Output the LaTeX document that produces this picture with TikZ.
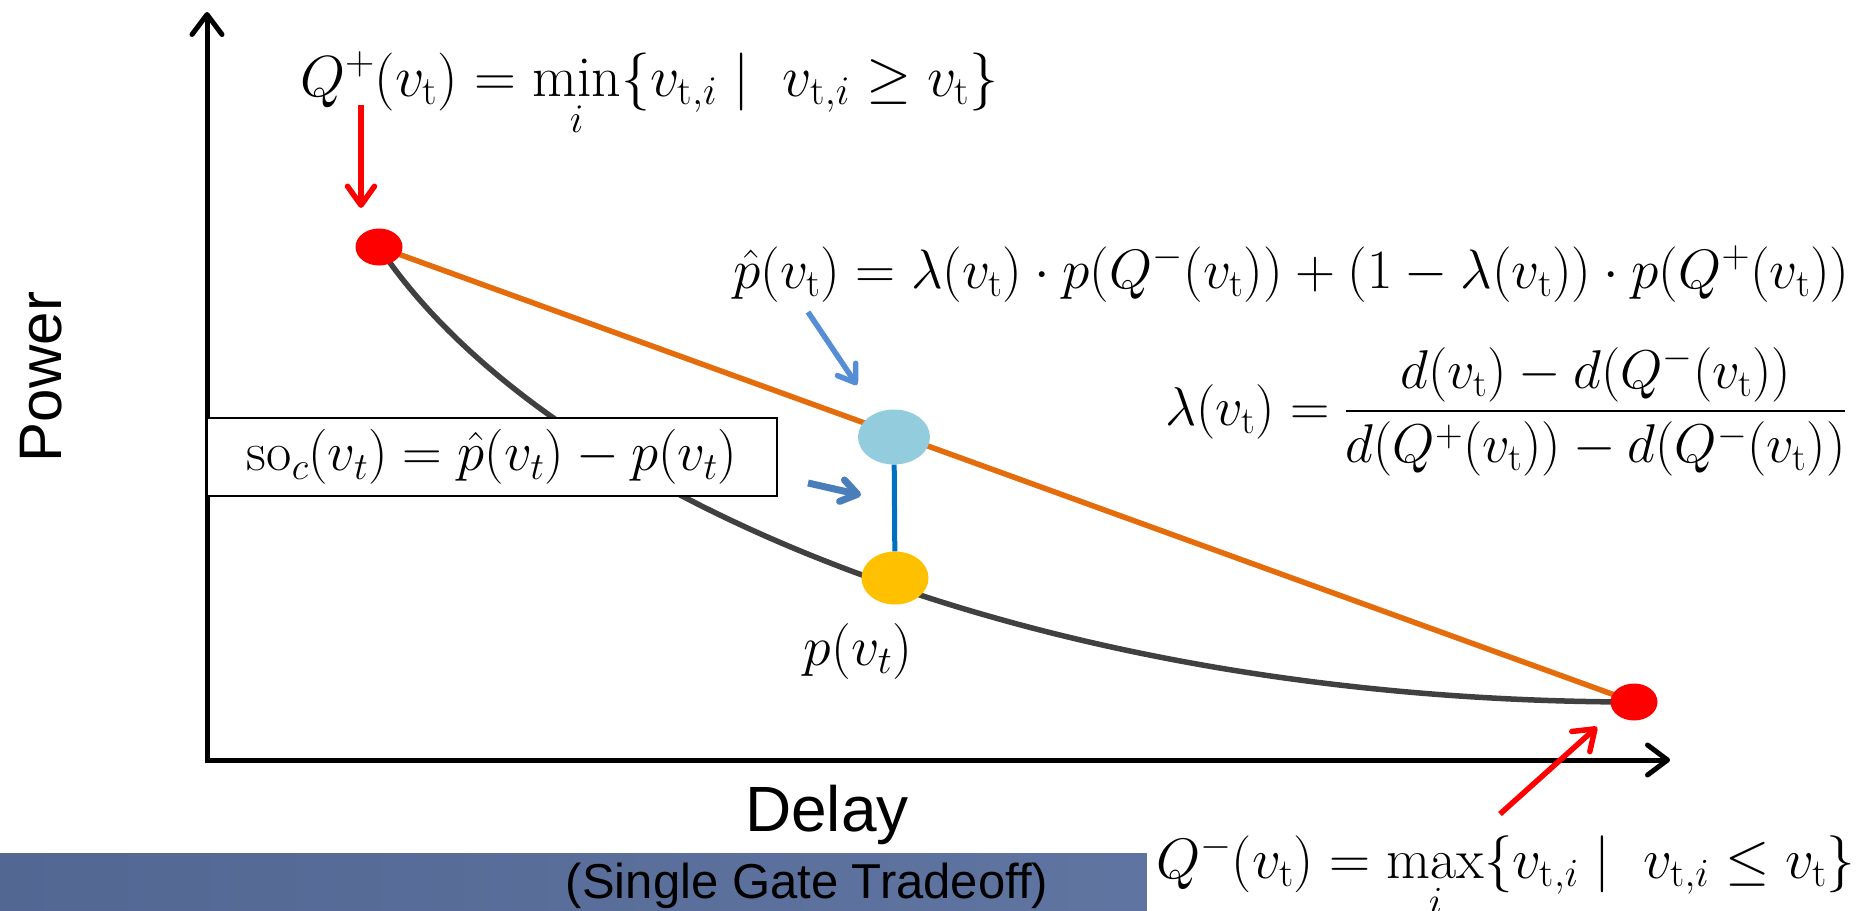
\RequirePackage{fix-cm}
\documentclass[tikz,border=0pt]{standalone}
\usepackage{fontspec}
\setsansfont{Liberation Sans}
\usepackage{amsmath,amssymb}
\usepackage{tikz}
\usetikzlibrary{arrows.meta,positioning,backgrounds,shapes.geometric}

\definecolor{ptred}{RGB}{255,0,0}
\definecolor{chordorange}{RGB}{228,108,10}
\definecolor{curvegray}{RGB}{64,64,64}
\definecolor{hatblue}{RGB}{147,205,221}
\definecolor{pyellow}{RGB}{255,192,0}
\definecolor{gapblue}{RGB}{0,112,192}
\definecolor{arrblue}{RGB}{85,142,213}
\definecolor{arrdark}{RGB}{74,126,187}
\definecolor{barleft}{RGB}{82,104,147}
\definecolor{barright}{RGB}{104,124,168}

\newcommand{\vt}{v_{\mathrm{t}}}
\newcommand{\vti}{v_{\mathrm{t},i}}

\begin{document}
\begin{tikzpicture}[x=1pt,y=-1pt,
 dot/.style={ellipse,inner sep=0pt,minimum width=47pt,minimum height=37pt},
 axis/.style={line width=5pt,{Straight Barb[round,length=20pt,width=30pt]}-{Straight Barb[round,length=20pt,width=30pt]}},
 redarrow/.style={ptred,line width=5.5pt,-{Straight Barb[round,length=19pt,width=27pt]}},
 bluearrow/.style={line width=5.5pt,-{Straight Barb[round,length=16pt,width=22pt]}},
 bigmath/.style={font=\fontsize{#1}{60}\selectfont,inner sep=0pt},
 sans/.style={font=\sffamily\fontsize{#1}{#1}\selectfont}]
\useasboundingbox (0,0) rectangle (1860,910);
% slide footer
\shade[left color=barleft,right color=barright] (0,853) rectangle (1860,910);
\node[sans=49] (caption) at (807,886) {(Single Gate Tradeoff)};
% axes
\coordinate (origin) at (207,760);
\coordinate (ytop) at (207,12);
\coordinate (xend) at (1670,760);
\draw[axis] (ytop) -- (origin) -- (xend);
\node[sans=60,rotate=90] (power) at (41,377) {Power};
\node[sans=64] (delay) at (827,815) {Delay};
% the two neighbours and the two values at v_t
\node[dot,fill=ptred] (qplus) at (379,247) {};
\node[dot,fill=ptred] (qminus) at (1634,702) {};
\node[dot,fill=hatblue,minimum width=72pt,minimum height=55pt] (phat) at (894,437) {};
\node[dot,fill=pyellow,minimum width=67pt,minimum height=53pt] (pdot) at (895,578) {};
\begin{pgfonlayer}{background}
\draw[chordorange,line width=5.5pt] (qplus.center) -- (qminus.center);
\draw[curvegray,line width=5.5pt] (qplus.center) .. controls (539,487) and (1012,701) .. (qminus.center);
\end{pgfonlayer}
\draw[gapblue,line width=5pt] (phat) -- (pdot);
\node[bigmath=56] (plabel) at (858,651) {$p(v_t)$};
\node[draw,fill=white,line width=2pt,minimum width=570pt,minimum height=78pt,
 bigmath=55] (sobox) at (492,457)
 {$\mathrm{so}_c(v_t)=\hat p(v_t)-p(v_t)$};
% formulas
\node[bigmath=58,anchor=base west] (qplustext) at (300,96)
 {$Q^+(\vt)=\min\limits_i\{\vti\mid\ \vti\geq\vt\}$};
\node[bigmath=55.5,anchor=base west] (phattext) at (733,288)
 {$\hat p(\vt)=\lambda(\vt)\cdot p(Q^-(\vt))+(1-\lambda(\vt))\cdot p(Q^+(\vt))$};
\node[bigmath=54.6,anchor=base west] (lambdatext) at (1165,425)
 {$\lambda(\vt)=\dfrac{d(\vt)-d(Q^-(\vt))}{d(Q^+(\vt))-d(Q^-(\vt))}$};
\node[bigmath=57,anchor=base west,fill=white,inner xsep=9pt,inner ysep=10pt] (qminustext) at (1147,878)
 {$Q^-(\vt)=\max\limits_i\{\vti\mid\ \vti\leq\vt\}$};
% pointers
\coordinate (qplustail) at (361,105);
\coordinate (qplustip) at (361,208);
\coordinate (qminustail) at (1500,814);
\coordinate (qminustip) at (1597,727);
\coordinate (phattail) at (808,312);
\coordinate (phattip) at (857,385);
\coordinate (sotail) at (808,483);
\coordinate (sotip) at (861,495);
\draw[redarrow] (qplustail) -- (qplustip);
\draw[redarrow] (qminustail) -- (qminustip);
\draw[bluearrow,arrblue] (phattail) -- (phattip);
\draw[bluearrow,arrdark,line width=7pt] (sotail) -- (sotip);
\end{tikzpicture}
\end{document}
